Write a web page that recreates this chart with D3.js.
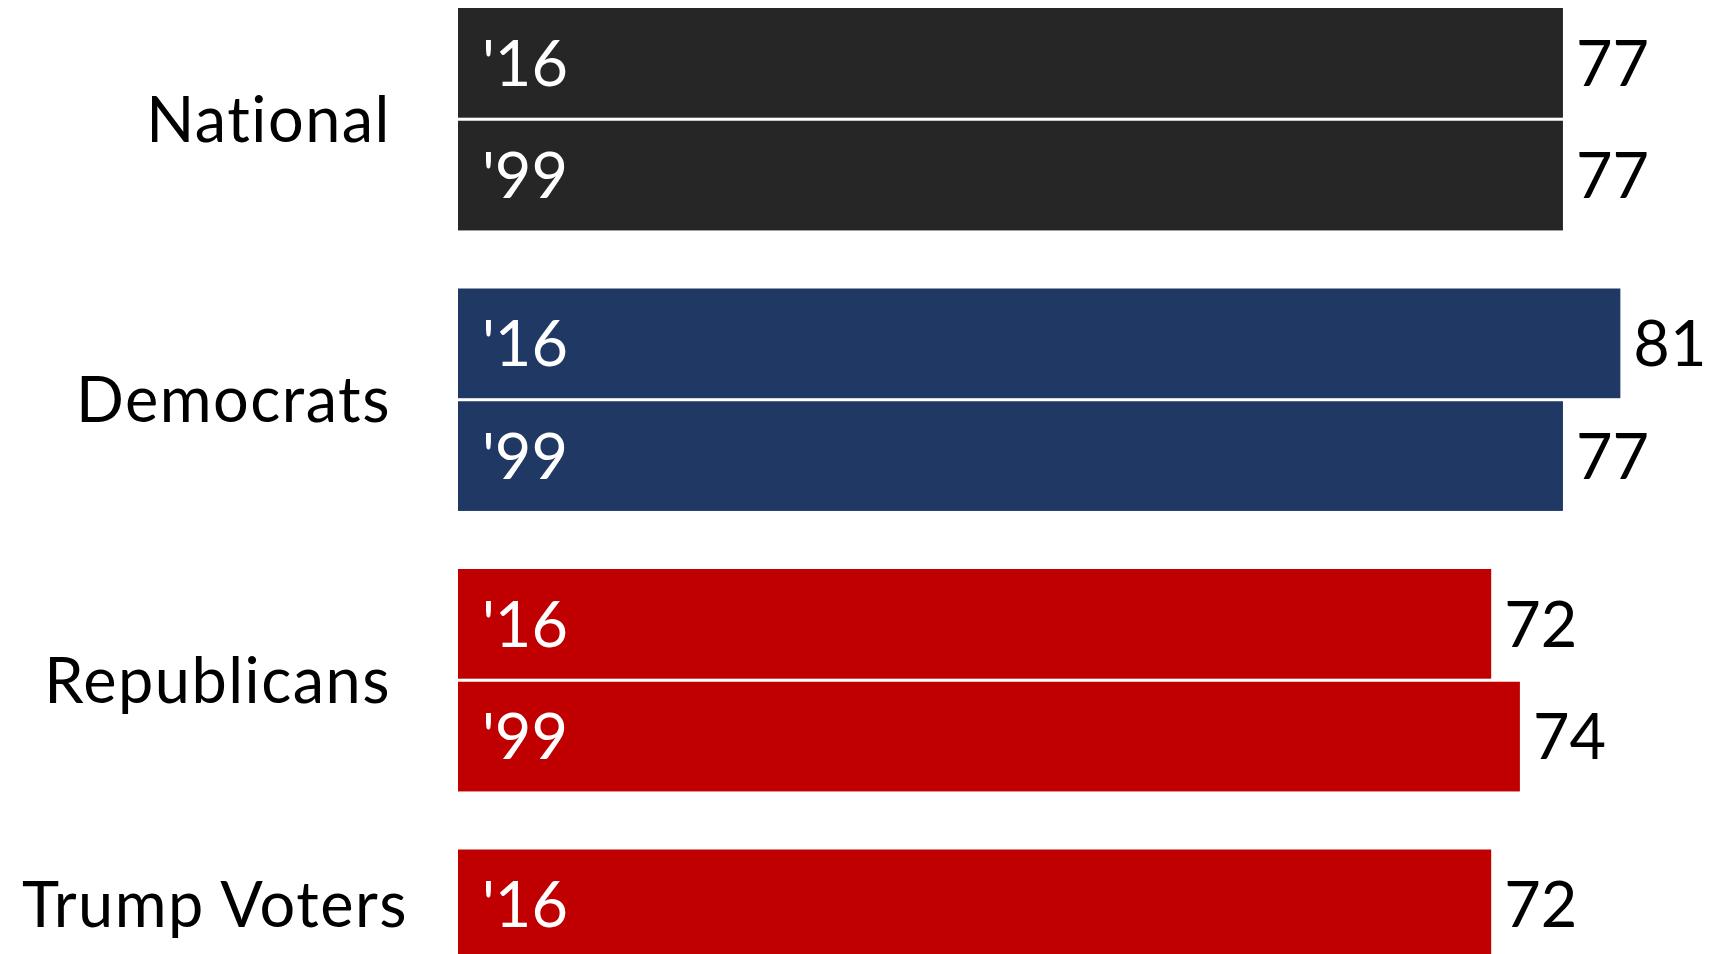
<!DOCTYPE html>
<html>
<head>
<meta charset="utf-8">
<script src="https://cdn.jsdelivr.net/npm/d3@7"></script>
<style>
  body { margin: 0; background: #fff; }
  text { font-family: Lato, "Open Sans", sans-serif; font-variant-ligatures: none; }
</style>
</head>
<body>
<svg></svg>
<script>
const groups = ["National", "Democrats", "Republicans", "Trump Voters"];
const years = ["'16", "'99"];
const values16 = [77, 81, 72, 72];
const values99 = [77, 77, 74, null];
const groupColors = ["#262626", "#203864", "#C00000", "#C00000"];

const width = 1710;
const height = 954;
const fontSize = 63;

const svg = d3.select("svg").attr("width", width).attr("height", height);

// one row per bar, skipping missing values
const rows = [];
groups.forEach((g, i) => {
  [values16[i], values99[i]].forEach((v, j) => {
    if (v != null) rows.push({ group: g, year: years[j], value: v, color: groupColors[i] });
  });
});

const xScale = d3.scaleLinear().domain([0, 100]).range([458, 458 + 1435]);

const groupStep = 280.5;
const yGroup = d3.scaleBand()
  .domain(groups)
  .range([8, 8 + groupStep * groups.length])
  .paddingInner(0.207)
  .paddingOuter(0.1035)
  .align(0);

const yYear = d3.scaleBand()
  .domain(years)
  .range([0, yGroup.bandwidth()])
  .paddingInner(0.027);

const barY = (d) => yGroup(d.group) + yYear(d.year);
const barH = yYear.bandwidth();

const g = svg.append("g");

g.selectAll("rect")
  .data(rows)
  .enter()
  .append("rect")
  .attr("x", xScale(0))
  .attr("y", barY)
  .attr("width", (d) => xScale(d.value) - xScale(0))
  .attr("height", barH)
  .attr("fill", (d) => d.color);

// year labels inside bars
g.selectAll(".year-label")
  .data(rows)
  .enter()
  .append("text")
  .attr("class", "year-label")
  .attr("x", xScale(0) + 24)
  .attr("y", (d) => barY(d) + barH / 2)
  .attr("dy", "0.36em")
  .attr("fill", "#fff")
  .style("font-size", fontSize + "px")
  .text((d) => d.year);

// value labels after bars
g.selectAll(".value-label")
  .data(rows)
  .enter()
  .append("text")
  .attr("class", "value-label")
  .attr("x", (d) => xScale(d.value) + 13)
  .attr("y", (d) => barY(d) + barH / 2)
  .attr("dy", "0.36em")
  .attr("fill", "#000")
  .style("font-size", fontSize + "px")
  .text((d) => d.value);

// category labels, centred on the bars of each group
const labelNudge = { "Trump Voters": 17 };
g.selectAll(".group-label")
  .data(groups)
  .enter()
  .append("text")
  .attr("class", "group-label")
  .attr("text-anchor", "end")
  .attr("x", (d) => 391 + (labelNudge[d] || 0))
  .attr("y", (d) => {
    const bars = rows.filter((r) => r.group === d);
    const top = yGroup(d) + yYear(bars[0].year);
    const bottom = yGroup(d) + yYear(bars[bars.length - 1].year) + barH;
    return (top + bottom) / 2;
  })
  .attr("dy", "0.36em")
  .attr("fill", "#000")
  .style("font-size", fontSize + "px")
  .style("letter-spacing", "1.5px")
  .text((d) => d);
</script>
</body>
</html>
